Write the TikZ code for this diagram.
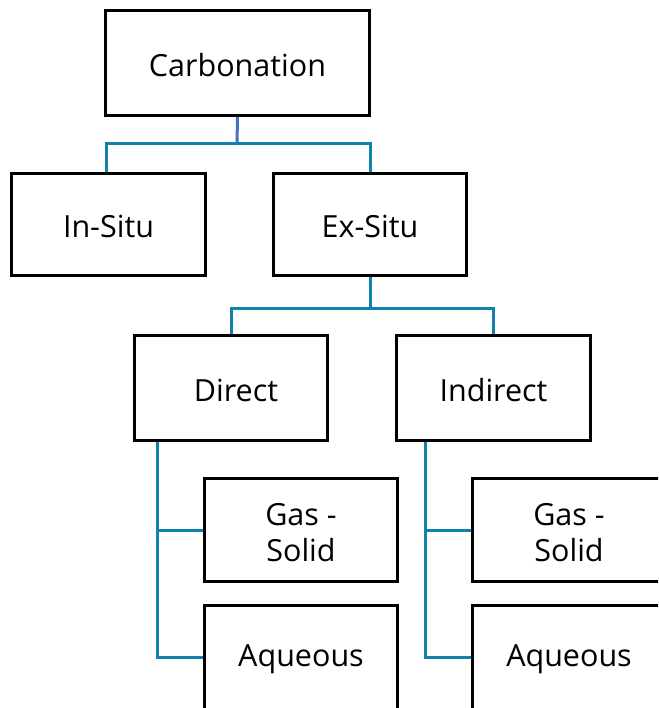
\documentclass[tikz,border=0pt]{standalone}
\usepackage{fontspec}
\setmainfont{Open Sans}
\definecolor{conn}{HTML}{1281B0}
\definecolor{topconn}{HTML}{4472C4}
\begin{document}
\begin{tikzpicture}[x=1pt,y=-1pt,
  box/.style={draw=black, line width=3pt, fill=white, inner sep=0pt, align=center,
    font=\fontsize{30.5}{36}\selectfont},
  txt/.style={inner sep=0pt, align=center, font=\fontsize{30.5}{36}\selectfont},
  link/.style={draw=conn, line width=3pt},
  toplink/.style={draw=topconn, line width=3pt}]
\clip (0,0) rectangle (658,708);
\useasboundingbox (0,0) rectangle (658,708);
\fill[white] (0,0) rectangle (658,708);
\node[box, minimum width=264pt, minimum height=105pt] (carb) at (237.5,63) {};
\node[box, minimum width=194pt, minimum height=102pt] (insitu) at (108.5,224.5) {};
\node[box, minimum width=193pt, minimum height=102pt] (exsitu) at (370,224.5) {};
\node[box, minimum width=193pt, minimum height=105pt] (direct) at (231,388) {};
\node[box, minimum width=194pt, minimum height=105pt] (indirect) at (493.5,388) {};
\node[box, minimum width=193pt, minimum height=103pt] (gs1) at (301,530) {};
\node[box, minimum width=193pt, minimum height=104pt] (aq1) at (301,657) {};
\node[box, minimum width=193pt, minimum height=103pt] (gs2) at (569,530) {};
\node[box, minimum width=193pt, minimum height=104pt] (aq2) at (569,657) {};
\node[txt] (tcarb) at ([yshift=-2pt]carb.center) {Carbonation};
\node[txt] (tinsitu) at ([yshift=-2pt]insitu.center) {In-Situ};
\node[txt] (texsitu) at ([yshift=-2pt]exsitu.center) {Ex-Situ};
\node[txt] (tdirect) at ([xshift=5pt,yshift=-2pt]direct.center) {Direct};
\node[txt] (tindirect) at ([yshift=-2pt]indirect.center) {Indirect};
\node[txt] (tgs1) at ([yshift=-3pt]gs1.center) {Gas -\\Solid};
\node[txt] (taq1) at ([yshift=-2pt]aq1.center) {Aqueous};
\node[txt] (tgs2) at ([yshift=-3pt]gs2.center) {Gas -\\Solid};
\node[txt] (taq2) at ([yshift=-2pt]aq2.center) {Aqueous};
% connectors
\coordinate (j1) at (237,144);
\draw[toplink] (carb.south) -- (j1);
\draw[link] (insitu.north -| 106,0) -- (106,144) -- (370,144) -- (exsitu.north);
\coordinate (j2) at (370,308);
\draw[link] (exsitu.south) -- (j2);
\draw[link] (direct.north) -- (direct.north |- j2) -- (indirect.north |- j2) -- (indirect.north);
\coordinate (d1) at (157,442);
\coordinate (d2) at (425,442);
\draw[link] (d1) |- (gs1.west);
\draw[link] (d1) |- (aq1.west);
\draw[link] (d2) |- (gs2.west);
\draw[link] (d2) |- (aq2.west);
\end{tikzpicture}
\end{document}
